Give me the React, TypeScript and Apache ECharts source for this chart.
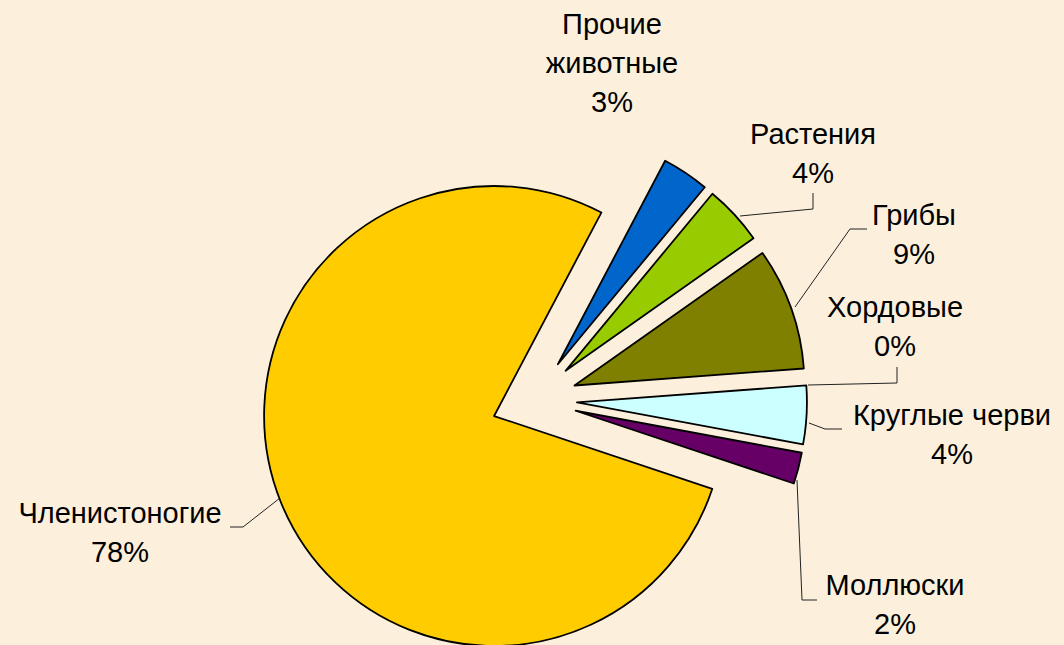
import React, { useEffect, useRef } from 'react';
import * as echarts from 'echarts';

// ---- data ----
const categories = ['Прочие животные', 'Растения', 'Грибы', 'Хордовые', 'Круглые черви', 'Моллюски', 'Членистоногие'];
const values = [3.3, 4.2, 8.6, 0, 4.1, 2.2, 77.6];
const labelNames = ['Прочие\nживотные', 'Растения', 'Грибы', 'Хордовые', 'Круглые черви', 'Моллюски', 'Членистоногие'];

// ---- styles / layout ----
const colors = ['#0066CC', '#99CC00', '#808000', '#FFFFFF', '#CCFFFF', '#660066', '#FFCC00'];
const labelPos: number[][] = [[612, 63], [813, 153], [914, 234], [895, 326], [952, 434], [895, 604], [120, 532]];
const leaderLines: (number[][] | null)[] = [
  null,
  [[740, 216], [813, 209], [813, 193]],
  [[795, 307], [850, 229], [867, 229]],
  [[808, 385], [897, 383], [897, 367]],
  [[809, 423], [825, 429], [842, 429]],
  [[797, 480], [802, 600], [817, 600]],
  [[280, 498], [243, 527], [230, 527]],
];

export default function App() {
  const ref = useRef<HTMLDivElement>(null);
  useEffect(() => {
    document.body.style.margin = '0';
    document.body.style.background = '#FCF0DD';
    const chart = echarts.init(ref.current!, null, { renderer: 'svg' });
    const total = values.reduce((a, b) => a + b, 0);
    const data = categories.map((name, i) => ({
      name,
      value: values[i],
      selected: true,
      itemStyle: {
        color: colors[i],
        borderColor: '#000',
        borderWidth: values[i] === 0 ? 0 : 1.8,
      },
    }));
    const graphics: any[] = [];
    categories.forEach((_, i) => {
      const pts = leaderLines[i];
      if (pts) {
        graphics.push({
          type: 'polyline',
          shape: { points: pts },
          style: { stroke: '#222', lineWidth: 1, fill: null },
          silent: true,
        });
      }
      graphics.push({
        type: 'text',
        x: labelPos[i][0],
        y: labelPos[i][1],
        style: {
          text: labelNames[i] + '\n' + Math.round((values[i] / total) * 100) + '%',
          fill: '#000',
          fontFamily: 'Liberation Sans, Arial, sans-serif',
          fontSize: 29,
          lineHeight: 39,
          align: 'center',
          verticalAlign: 'middle',
          textAlign: 'center',
          textVerticalAlign: 'middle',
        },
        silent: true,
      });
    });
    chart.setOption({
      animation: false,
      backgroundColor: '#FCF0DD',
      series: [
        {
          type: 'pie',
          center: [534, 400],
          radius: [0, 230],
          startAngle: 62.2,
          clockwise: true,
          selectedMode: 'multiple',
          selectedOffset: 43,
          avoidLabelOverlap: false,
          emphasis: { disabled: true },
          data,
          label: { show: false },
          labelLine: { show: false },
        },
      ],
      graphic: graphics,
    });
    return () => chart.dispose();
  }, []);
  return <div ref={ref} style={{ width: 1064, height: 645 }} />;
}
